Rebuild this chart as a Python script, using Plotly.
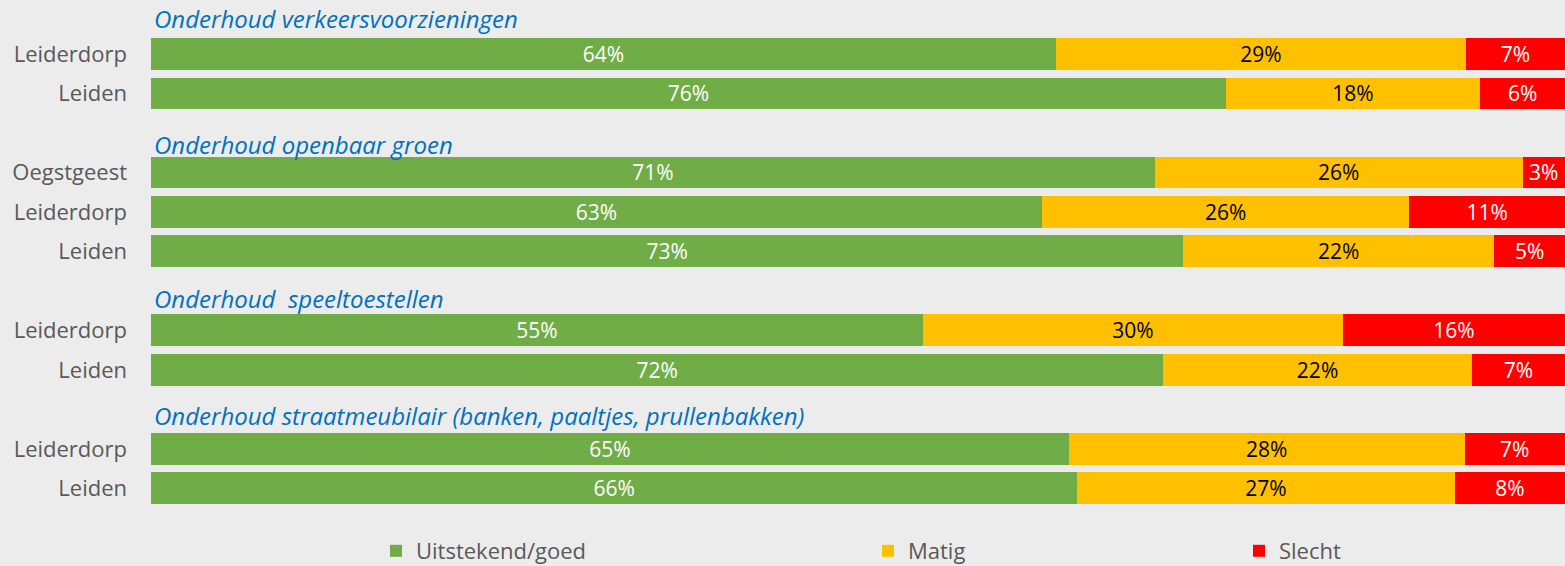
import plotly.graph_objects as go

# ---- data ----
row_labels = ["Leiderdorp", "Leiden",
              "Oegstgeest", "Leiderdorp", "Leiden",
              "Leiderdorp", "Leiden",
              "Leiderdorp", "Leiden"]
row_slots = [1, 2, 4, 5, 6, 8, 9, 11, 12]

goed = [64, 76, 71, 63, 73, 54.6, 71.6, 64.9, 65.5]
matig = [29, 18, 26, 26, 22, 29.7, 21.8, 28.0, 26.7]
slecht = [7, 6, 3, 11, 5, 15.7, 6.6, 7.1, 7.8]

series_names = ["Uitstekend/goed", "Matig", "Slecht"]
section_titles = ["Onderhoud verkeersvoorzieningen",
                  "Onderhoud openbaar groen",
                  "Onderhoud  speeltoestellen",
                  "Onderhoud straatmeubilair (banken, paaltjes, prullenbakken)"]
title_slots = [0.09, 3.30, 7.18, 10.14]

colors = ["#70ad47", "#ffc000", "#ff0000"]
text_colors = ["#ffffff", "#000000", "#ffffff"]
FONT = "Open Sans"
BG = "#ececec"

fig = go.Figure()
for i, (name, vals) in enumerate(zip(series_names, [goed, matig, slecht])):
    fig.add_trace(go.Bar(
        x=vals, y=row_slots, orientation="h", name=name,
        marker=dict(color=colors[i], line=dict(width=0)),
        text=[f"{round(v)}%" for v in vals],
        textposition="inside", insidetextanchor="middle",
        constraintext="none",
        textfont=dict(family=FONT, size=21, color=text_colors[i]),
        width=0.81,
        hoverinfo="skip",
        legend=["legend", "legend2", "legend3"][i],
    ))

for t, s in zip(section_titles, title_slots):
    fig.add_annotation(
        x=0, xref="paper", xanchor="left", xshift=1,
        y=s, yref="y", yanchor="middle",
        text=f"<i>{t}</i>", showarrow=False,
        font=dict(family=FONT, size=24, color="#0070c0", weight=500),
    )

W, H = 1565, 566
ml, mr, mt, mb = 151, 0, 0, 58
plot_w = W - ml - mr
plot_h = H - mt - mb

def lx(px):
    return (px - ml) / plot_w

leg_y = (plot_h - (551 - mt)) / plot_h
leg_common = dict(orientation="h", yanchor="middle", y=leg_y, xanchor="left",
                  bgcolor="rgba(0,0,0,0)", itemwidth=30,
                  font=dict(family=FONT, size=22, color="#595959"))

fig.update_layout(
    width=W, height=H,
    margin=dict(l=ml, r=mr, t=mt, b=mb, pad=0, autoexpand=False),
    barmode="stack",
    paper_bgcolor=BG, plot_bgcolor=BG,
    showlegend=True,
    legend=dict(x=lx(376), **leg_common),
    legend2=dict(x=lx(868), **leg_common),
    legend3=dict(x=lx(1239), **leg_common),
    xaxis=dict(range=[0, 100], visible=False, fixedrange=True),
    yaxis=dict(range=[12.494, -0.367], tickvals=row_slots, ticktext=row_labels,
               showgrid=False, zeroline=False, showline=False,
               ticks="", ticklabelstandoff=23, fixedrange=True,
               tickfont=dict(family=FONT, size=22, color="#595959")),
    font=dict(family=FONT),
)

fig.write_html("out.html", config={"displayModeBar": False},
               post_script="document.body.style.margin='0';document.body.style.background='#ececec';")
